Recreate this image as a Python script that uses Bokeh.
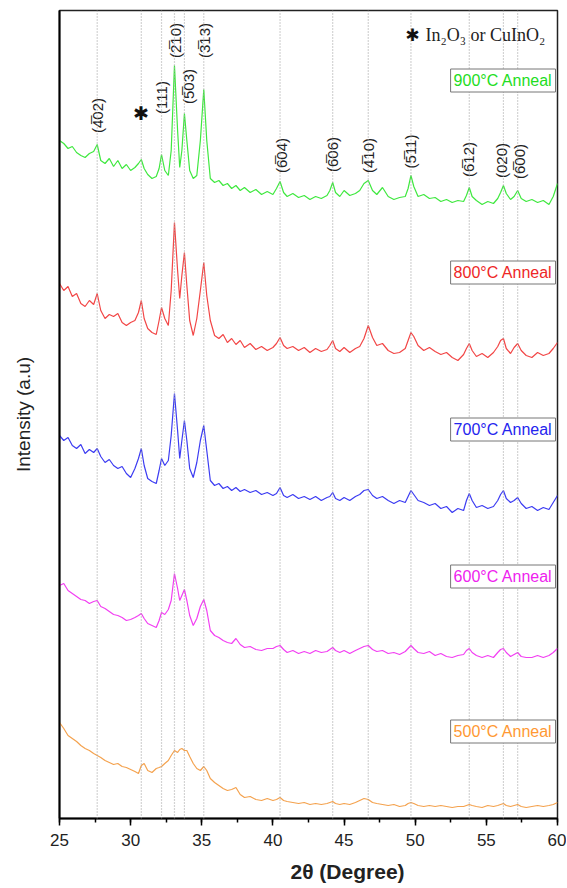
import math
from bokeh.plotting import figure
from bokeh.models import ColumnDataSource, Span, Label, FixedTicker, SingleIntervalTicker, Title
from bokeh.core.properties import value
from bokeh.embed import file_html
from bokeh.resources import INLINE

# ---------------- data ----------------
two_theta = [
    25.0, 25.3, 25.6, 25.9, 26.2, 26.5, 26.8, 27.1, 27.4, 27.65,
    27.9, 28.2, 28.5, 28.8, 29.1, 29.4, 29.7, 30.0, 30.3, 30.55,
    30.75, 30.95, 31.2, 31.5, 31.8, 32.0, 32.17, 32.4, 32.65, 32.85,
    33.08, 33.3, 33.45, 33.6, 33.78, 33.95, 34.15, 34.4, 34.65, 34.9,
    35.14, 35.35, 35.6, 35.9, 36.2, 36.5, 36.8, 37.1, 37.4, 37.7,
    38.0, 38.4, 38.8, 39.2, 39.6, 40.0, 40.25, 40.5, 40.75, 41.0,
    41.4, 41.8, 42.2, 42.6, 43.0, 43.4, 43.8, 44.0, 44.2, 44.4,
    44.7, 45.0, 45.4, 45.8, 46.1, 46.4, 46.7, 47.0, 47.3, 47.7,
    48.1, 48.5, 48.9, 49.3, 49.5, 49.7, 49.9, 50.2, 50.6, 51.0,
    51.4, 51.8, 52.2, 52.6, 53.0, 53.4, 53.6, 53.8, 54.0, 54.3,
    54.7, 55.1, 55.5, 55.8, 56.0, 56.2, 56.4, 56.7, 56.95, 57.2,
    57.45, 57.8, 58.2, 58.6, 59.0, 59.4, 59.7, 60.0,
]

i900 = [
    860, 857, 852, 854, 848, 845, 843, 847, 849, 856,
    840, 837, 842, 834, 840, 832, 836, 830, 833, 837,
    841, 832, 826, 822, 824, 832, 846, 830, 825, 850,
    935, 870, 833, 850, 887, 860, 830, 822, 825, 860,
    911, 860, 822, 818, 820, 815, 817, 812, 815, 810,
    813, 808, 811, 806, 809, 806, 812, 819, 808, 804,
    807, 803, 805, 801, 804, 802, 805, 810, 818, 808,
    804, 810, 805, 807, 810, 817, 820, 810, 806, 813,
    804, 801, 803, 804, 812, 825, 814, 804, 806, 802,
    803, 799, 801, 798, 800, 799, 805, 813, 804, 800,
    796, 799, 797, 802, 808, 815, 807, 801, 804, 810,
    802, 799, 801, 798, 800, 796, 804, 817,
]

i800 = [
    717, 710, 714, 704, 707, 697, 694, 700, 696, 707,
    690, 682, 686, 684, 687, 678, 675, 678, 680, 688,
    700, 682, 672, 668, 666, 680, 693, 682, 675, 710,
    778, 730, 702, 725, 748, 715, 680, 665, 682, 710,
    738, 705, 680, 665, 662, 666, 658, 662, 656, 660,
    653, 657, 651, 654, 650, 653, 657, 663, 655, 652,
    654, 650, 653, 648, 652, 649, 651, 655, 660, 652,
    649, 653, 648, 652, 654, 662, 675, 663, 655, 657,
    650, 647, 648, 652, 660, 668, 664, 655, 650, 653,
    649, 646, 648, 643, 640, 646, 652, 657, 650, 644,
    647, 643, 648, 654, 660, 662, 652, 647, 653, 657,
    650, 645, 643, 648, 645, 647, 652, 658,
]

i700 = [
    565, 560, 563, 555, 552, 556, 547, 551, 548, 552,
    544, 538, 541, 535, 532, 534, 527, 523, 532, 542,
    552, 535, 522, 519, 517, 530, 542, 535, 540, 565,
    607, 570, 542, 560, 580, 560, 532, 523, 538, 560,
    575, 550, 520, 515, 517, 512, 514, 510, 513, 509,
    511, 508, 510, 506, 508, 505, 507, 513, 505, 503,
    506, 502, 504, 501, 504, 500, 503, 504, 508, 502,
    500, 503, 500, 504, 506, 510, 511, 505, 502, 504,
    500, 497, 500, 498, 504, 510, 506, 500, 498, 495,
    497, 492, 494, 488, 492, 490, 500, 507, 500, 493,
    495, 492, 494, 500, 506, 510, 502, 498, 500, 503,
    497, 492, 494, 490, 493, 491, 498, 505,
]

i600 = [
    415, 417, 410, 407, 404, 401, 400, 397, 399, 400,
    394, 392, 389, 386, 385, 383, 380, 381, 383, 385,
    387, 382, 377, 375, 373, 380, 388, 386, 391, 400,
    427, 412, 400, 405, 411, 400, 385, 375, 382, 394,
    401, 390, 370, 365, 363, 360, 358, 357, 362, 356,
    353, 354, 351, 350, 352, 352, 354, 355, 351, 348,
    350, 347, 349, 347, 350, 348, 349, 351, 353, 350,
    348, 350, 347, 350, 352, 354, 355, 351, 349, 350,
    347, 348, 346, 349, 352, 355, 352, 348, 347, 349,
    345, 347, 344, 343, 345, 346, 350, 352, 348, 345,
    343, 345, 343, 348, 351, 352, 348, 344, 346, 348,
    344, 343, 343, 345, 343, 345, 348, 352,
]

i500 = [
    278, 272, 265, 262, 259, 255, 252, 250, 247, 245,
    243, 240, 238, 236, 237, 234, 233, 231, 229, 227,
    235, 237, 230, 228, 232, 233, 234, 237, 240, 245,
    250, 248, 251, 252, 250, 250, 244, 237, 232, 230,
    234, 230, 222, 218, 215, 212, 210, 211, 213, 206,
    203, 204, 201, 200, 202, 200, 201, 203, 200, 199,
    198, 197, 198, 196, 197, 196, 197, 198, 199, 197,
    196, 197, 196, 198, 200, 202, 201, 198, 197, 196,
    195, 196, 194, 195, 197, 198, 197, 195, 194, 195,
    194, 195, 194, 193, 194, 194, 195, 196, 195, 194,
    193, 195, 194, 195, 196, 197, 195, 194, 195, 196,
    194, 193, 194, 195, 194, 195, 196, 198,
]

series_names = ["900°C Anneal", "800°C Anneal", "700°C Anneal", "600°C Anneal", "500°C Anneal"]
series_values = [i900, i800, i700, i600, i500]
line_colors = ["#3fe83f", "#f24646", "#3c3cf2", "#f23ff2", "#f4a24e"]
text_colors = ["#22dd22", "#ee2626", "#2424ee", "#ee22ee", "#ff9933"]
name_y = [920, 728, 571, 424, 269]

peak_positions = [27.65, 30.75, 32.17, 33.08, 33.78, 35.14, 40.5, 44.2, 46.7, 49.7, 53.8, 56.2, 57.2]

O = "\u0305"
hkl_text = ["(4" + O + "02)", "(111)", "(2" + O + "10)", "(5" + O + "03)", "(3" + O + "13)",
            "(6" + O + "04)", "(6" + O + "06)", "(4" + O + "10)", "(5" + O + "11)",
            "(6" + O + "12)", "(020)", "(6" + O + "00)"]
hkl_x = [27.65, 32.17, 33.12, 34.05, 35.16, 40.6, 44.2, 46.7, 49.7, 53.75, 56.05, 57.35]
hkl_y = [885, 903, 960, 914, 960, 845, 846, 845, 849, 841, 840, 839]

# ---------------- figure ----------------
p = figure(frame_width=498, frame_height=808,
           x_range=(25, 60), y_range=(182, 990),
           output_backend="svg", toolbar_location=None,
           min_border_left=59, min_border_right=9, min_border_top=10, min_border_bottom=60)
p.background_fill_color = "white"
p.border_fill_color = "white"
p.outline_line_color = "#222222"
p.outline_line_width = 1.5
p.xgrid.visible = False
p.ygrid.visible = False

# x axis
p.xaxis.ticker = SingleIntervalTicker(interval=5, num_minor_ticks=2)
p.xaxis.major_tick_out = 7
p.xaxis.major_tick_in = 0
p.xaxis.minor_tick_out = 4
p.xaxis.minor_tick_in = 0
p.xaxis.axis_line_width = 2
p.xaxis.major_tick_line_width = 1.5
p.xaxis.minor_tick_line_width = 1.5
p.xaxis.major_label_text_font = "Liberation Sans"
p.xaxis.major_label_text_font_size = "17px"
p.xaxis.major_label_text_color = "#222222"
p.xaxis.major_label_standoff = 8

# x axis title, set off to the right as in the reference
p.add_layout(Title(text="2θ (Degree)", align="left", offset=231, standoff=19,
                   text_font="Liberation Sans", text_font_style="bold",
                   text_font_size="21px", text_color="#222222"), "below")

# y axis (no ticks)
p.yaxis.ticker = FixedTicker(ticks=[])
p.yaxis.major_tick_out = 0
p.yaxis.minor_tick_out = 0
p.yaxis.axis_line_width = 2
p.yaxis.axis_label = "Intensity (a.u)"
p.yaxis.axis_label_text_font = "Liberation Sans"
p.yaxis.axis_label_text_font_style = "normal"
p.yaxis.axis_label_text_font_size = "19px"
p.yaxis.axis_label_text_color = "#222222"
p.yaxis.axis_label_standoff = 26

# dotted peak lines
for xp in peak_positions:
    p.add_layout(Span(location=xp, dimension="height", line_color="#a8a8a8",
                      line_dash="1 2", line_width=1.2))

# traces
for vals, col in zip(series_values, line_colors):
    p.line(two_theta, vals, line_color=col, line_width=1.2)

# series name boxes
for name, ty, tc in zip(series_names, name_y, text_colors):
    p.add_layout(Label(x=59.86, y=ty, text=name, text_align="right", text_baseline="middle",
                       text_font="Liberation Sans", text_font_size="16px", text_color=tc,
                       border_line_color="#777777", border_line_width=1,
                       background_fill_color="white", padding=3))

# hkl labels
src = ColumnDataSource(dict(x=hkl_x, y=hkl_y, t=hkl_text))
p.text(x="x", y="y", text="t", source=src, angle=math.pi / 2,
       text_align="center", text_baseline="middle",
       text_font=value("Liberation Sans"), text_font_size="15px", text_color="#222222")

# asterisk marker on the plot
p.add_layout(Label(x=30.75, y=888, text="\u2731", text_align="center", text_baseline="middle",
                   text_font="DejaVu Sans", text_font_size="19px", text_color="#111111"))

# legend note
p.add_layout(Label(x=49.8, y=966, text="\u2731", text_align="center", text_baseline="middle",
                   text_font="DejaVu Sans", text_font_size="17px", text_color="#111111"))
p.add_layout(Label(x=50.72, y=966, text="In₂O₃ or CuInO₂", text_align="left", text_baseline="middle",
                   text_font="Liberation Serif", text_font_size="18px", text_color="#222222"))

open("out.html", "w").write(file_html(p, INLINE))
